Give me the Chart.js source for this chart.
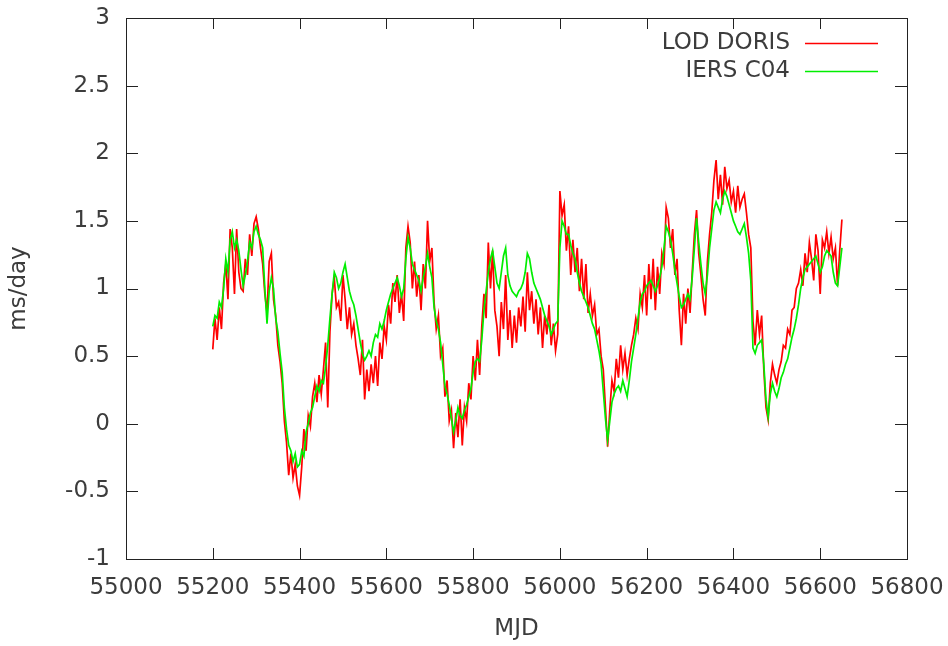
<!DOCTYPE html>
<html>
<head>
<meta charset="utf-8">
<script src="https://cdn.jsdelivr.net/npm/chart.js@4.4.1/dist/chart.umd.min.js"></script>
<style>
  html, body { margin: 0; padding: 0; background: #fff; }
  canvas { display: block; }
</style>
</head>
<body>
<canvas id="lodChart" width="948" height="646"></canvas>
<script>
// daily sampling grid (every 5 days from MJD 55200)
const mjdStart = 55200;
const mjdStep = 5;

const xTicks = [55000, 55200, 55400, 55600, 55800, 56000, 56200, 56400, 56600, 56800];
const yTicks = [-1, -0.5, 0, 0.5, 1, 1.5, 2, 2.5, 3];

// LOD from DORIS, ms/day
const lodDoris = [
  0.55, 0.78, 0.62, 0.86, 0.70, 1.04, 1.18, 0.92, 1.44, 1.30,
  0.96, 1.44, 1.12, 1.00, 0.98, 1.22, 1.10, 1.40, 1.24, 1.48,
  1.53, 1.44, 1.30, 1.18, 0.96, 0.82, 1.20, 1.26, 0.92, 0.80,
  0.58, 0.46, 0.30, 0.02, -0.14, -0.38, -0.22, -0.40, -0.30, -0.46,
  -0.53, -0.32, -0.04, -0.20, 0.06, -0.02, 0.20, 0.30, 0.16, 0.36,
  0.22, 0.40, 0.60, 0.12, 0.68, 0.96, 1.08, 0.86, 0.90, 0.76,
  1.10, 0.92, 0.70, 0.86, 0.66, 0.74, 0.58, 0.48, 0.36, 0.62,
  0.18, 0.40, 0.24, 0.44, 0.30, 0.50, 0.28, 0.60, 0.48, 0.72,
  0.62, 0.88, 0.74, 1.04, 0.90, 1.10, 0.82, 0.96, 0.76, 1.30,
  1.46, 1.34, 1.00, 1.20, 0.94, 1.10, 0.84, 1.18, 1.00, 1.50,
  1.20, 1.30, 0.90, 0.70, 0.80, 0.50, 0.56, 0.20, 0.32, 0.02,
  0.10, -0.18, 0.08, -0.10, 0.18, -0.16, 0.12, 0.02, 0.30, 0.18,
  0.50, 0.32, 0.62, 0.36, 0.72, 0.96, 0.78, 1.34, 1.00, 1.28,
  0.84, 0.72, 0.50, 0.90, 0.70, 1.10, 0.62, 0.84, 0.56, 0.80,
  0.60, 0.86, 0.72, 0.94, 0.68, 1.12, 0.84, 0.98, 0.74, 0.92,
  0.66, 0.86, 0.56, 0.80, 0.66, 0.88, 0.58, 0.74, 0.54, 0.66,
  1.72, 1.54, 1.62, 1.28, 1.46, 1.10, 1.36, 1.12, 1.30, 0.98,
  1.22, 0.92, 1.18, 0.82, 0.96, 0.80, 0.88, 0.66, 0.70, 0.50,
  0.40, 0.12, -0.17, 0.10, 0.32, 0.24, 0.48, 0.34, 0.58, 0.40,
  0.52, 0.36, 0.48, 0.58, 0.66, 0.78, 0.70, 0.96, 0.86, 1.10,
  0.80, 1.18, 0.92, 1.22, 0.84, 1.16, 0.96, 1.26, 1.18, 1.60,
  1.52, 1.30, 1.44, 1.10, 1.22, 0.84, 0.58, 0.96, 0.74, 1.00,
  0.82, 1.12, 1.40, 1.58, 1.26, 1.10, 0.92, 0.80, 1.20, 1.40,
  1.56, 1.80, 1.95, 1.66, 1.84, 1.62, 1.90, 1.74, 1.80, 1.64,
  1.72, 1.56, 1.76, 1.60, 1.66, 1.70, 1.56, 1.40, 1.30, 0.76,
  0.58, 0.84, 0.66, 0.80, 0.40, 0.12, 0.03, 0.30, 0.44, 0.36,
  0.30, 0.40, 0.46, 0.58, 0.56, 0.70, 0.66, 0.84, 0.86, 1.00,
  1.04, 1.14, 1.02, 1.26, 1.12, 1.34, 1.22, 1.06, 1.40, 1.28,
  0.96, 1.36, 1.30, 1.42, 1.26, 1.38, 1.22, 1.30, 1.02, 1.28, 1.51
];

// IERS C04 LOD, ms/day
const iersC04 = [
  0.72, 0.80, 0.78, 0.90, 0.86, 1.00, 1.22, 1.12, 1.36, 1.42,
  1.30, 1.36, 1.28, 1.14, 1.02, 1.10, 1.20, 1.34, 1.30, 1.42,
  1.46, 1.40, 1.36, 1.30, 1.00, 0.74, 0.98, 1.08, 1.00, 0.78,
  0.68, 0.52, 0.38, 0.12, -0.04, -0.16, -0.20, -0.28, -0.22, -0.32,
  -0.30, -0.20, -0.24, -0.06, 0.00, 0.08, 0.12, 0.20, 0.28, 0.24,
  0.32, 0.30, 0.42, 0.58, 0.78, 0.96, 1.12, 1.08, 1.00, 1.04,
  1.12, 1.18, 1.08, 0.98, 0.92, 0.88, 0.80, 0.70, 0.60, 0.52,
  0.47, 0.50, 0.54, 0.50, 0.60, 0.66, 0.64, 0.74, 0.70, 0.76,
  0.84, 0.90, 0.96, 1.00, 1.04, 1.08, 1.02, 0.94, 1.00, 1.22,
  1.38, 1.30, 1.18, 1.14, 1.10, 1.06, 0.98, 1.08, 1.16, 1.26,
  1.16, 1.08, 0.86, 0.76, 0.70, 0.60, 0.44, 0.28, 0.22, 0.14,
  0.04, -0.06, 0.02, 0.12, 0.06, 0.04, 0.10, 0.14, 0.20, 0.26,
  0.38, 0.46, 0.48, 0.46, 0.62, 0.84, 0.98, 1.12, 1.22, 1.28,
  1.16, 1.04, 1.00, 1.12, 1.24, 1.30, 1.10, 1.02, 0.98, 0.96,
  0.94, 0.98, 1.00, 1.04, 1.12, 1.26, 1.22, 1.12, 1.04, 1.00,
  0.96, 0.92, 0.86, 0.80, 0.76, 0.72, 0.66, 0.70, 0.74, 0.76,
  1.30, 1.50, 1.46, 1.40, 1.40, 1.32, 1.26, 1.22, 1.12, 1.04,
  0.98, 0.94, 0.90, 0.86, 0.80, 0.74, 0.70, 0.62, 0.54, 0.44,
  0.24, 0.04, -0.12, 0.02, 0.16, 0.22, 0.26, 0.28, 0.24, 0.32,
  0.26, 0.20, 0.32, 0.46, 0.56, 0.66, 0.78, 0.90, 0.96, 0.98,
  1.02, 1.04, 1.06, 1.02, 0.98, 1.02, 1.08, 1.16, 1.30, 1.46,
  1.42, 1.36, 1.26, 1.14, 1.04, 0.94, 0.86, 0.88, 0.92, 0.96,
  0.92, 1.08, 1.30, 1.52, 1.34, 1.18, 1.04, 0.96, 1.10, 1.30,
  1.44, 1.58, 1.64, 1.60, 1.56, 1.66, 1.72, 1.68, 1.62, 1.56,
  1.50, 1.46, 1.42, 1.40, 1.44, 1.48, 1.38, 1.26, 1.06, 0.56,
  0.52, 0.58, 0.60, 0.62, 0.44, 0.18, 0.05, 0.22, 0.30, 0.24,
  0.20, 0.26, 0.34, 0.38, 0.44, 0.48, 0.56, 0.64, 0.70, 0.78,
  0.88, 1.00, 1.08, 1.14, 1.16, 1.18, 1.20, 1.22, 1.24, 1.18,
  1.12, 1.16, 1.24, 1.28, 1.26, 1.24, 1.12, 1.04, 1.02, 1.16, 1.30
];

const mjd = lodDoris.map((_, i) => mjdStart + i * mjdStep);
const toPoints = vals => vals.map((v, i) => ({ x: mjd[i], y: v }));

const font = { family: 'DejaVu Sans', size: 23 };
const textColor = '#3c3c3c';

// gnuplot style frame, inward ticks on all four sides, key at top right
const gnuFrame = {
  id: 'gnuFrame',
  beforeDatasetsDraw(chart) {
    const { ctx, chartArea: a, scales: { x, y } } = chart;
    ctx.save();
    ctx.strokeStyle = '#222';
    ctx.lineWidth = 1;
    ctx.beginPath();
    x.ticks.forEach(t => {
      const px = Math.round(x.getPixelForValue(t.value)) + 0.5;
      ctx.moveTo(px, a.bottom); ctx.lineTo(px, a.bottom - 11);
      ctx.moveTo(px, a.top); ctx.lineTo(px, a.top + 11);
    });
    y.ticks.forEach(t => {
      const py = Math.round(y.getPixelForValue(t.value)) + 0.5;
      ctx.moveTo(a.left, py); ctx.lineTo(a.left + 12, py);
      ctx.moveTo(a.right, py); ctx.lineTo(a.right - 12, py);
    });
    ctx.stroke();
    ctx.strokeRect(Math.round(a.left) + 0.5, Math.round(a.top) + 0.5,
                   Math.round(a.width), Math.round(a.height));
    ctx.restore();
  },
  afterDatasetsDraw(chart) {
    const { ctx } = chart;
    const keys = [chart.data.datasets[0], chart.data.datasets[1]];
    ctx.save();
    ctx.font = font.size + 'px ' + font.family;
    ctx.textAlign = 'right';
    ctx.textBaseline = 'middle';
    keys.forEach((ds, i) => {
      const yy = 43 + i * 28;
      ctx.fillStyle = textColor;
      ctx.fillText(ds.label, 790, yy);
      ctx.strokeStyle = ds.borderColor;
      ctx.lineWidth = 1.6;
      ctx.beginPath();
      ctx.moveTo(805, yy + 0.5);
      ctx.lineTo(878, yy + 0.5);
      ctx.stroke();
    });
    ctx.restore();
  }
};

new Chart(document.getElementById('lodChart'), {
  type: 'line',
  data: {
    datasets: [{
      label: 'LOD DORIS',
      data: toPoints(lodDoris),
      borderColor: '#ff0000',
      borderWidth: 1.7,
      pointRadius: 0,
      order: 2
    }, {
      label: 'IERS C04',
      data: toPoints(iersC04),
      borderColor: '#00ee00',
      borderWidth: 1.7,
      pointRadius: 0,
      order: 1
    }]
  },
  options: {
    responsive: false,
    animation: false,
    layout: { padding: { top: 18, right: 41, left: 0, bottom: 0 } },
    plugins: { legend: { display: false }, tooltip: { enabled: false } },
    elements: { line: { tension: 0 } },
    scales: {
      x: {
        type: 'linear',
        min: 55000,
        max: 56800,
        afterBuildTicks: s => { s.ticks = xTicks.map(v => ({ value: v })); },
        afterFit: s => { s.height = 87; s.paddingLeft = 0; s.paddingRight = 0; },
        grid: { display: false },
        border: { display: false },
        ticks: { font, color: textColor, padding: 7, maxRotation: 0, autoSkip: false,
                 callback: v => String(v) },
        title: { display: true, text: 'MJD', font, color: textColor, padding: { top: 0, bottom: 3 } }
      },
      y: {
        min: -1,
        max: 3,
        afterBuildTicks: s => { s.ticks = yTicks.map(v => ({ value: v })); },
        afterFit: s => { s.width = 126; s.paddingTop = 0; s.paddingBottom = 0; },
        grid: { display: false },
        border: { display: false },
        ticks: { font, color: textColor, padding: 8, autoSkip: false,
                 callback: v => String(v) },
        title: { display: true, text: 'ms/day', font, color: textColor, padding: { top: 5, bottom: 0 } }
      }
    }
  },
  plugins: [gnuFrame]
});
</script>
</body>
</html>
